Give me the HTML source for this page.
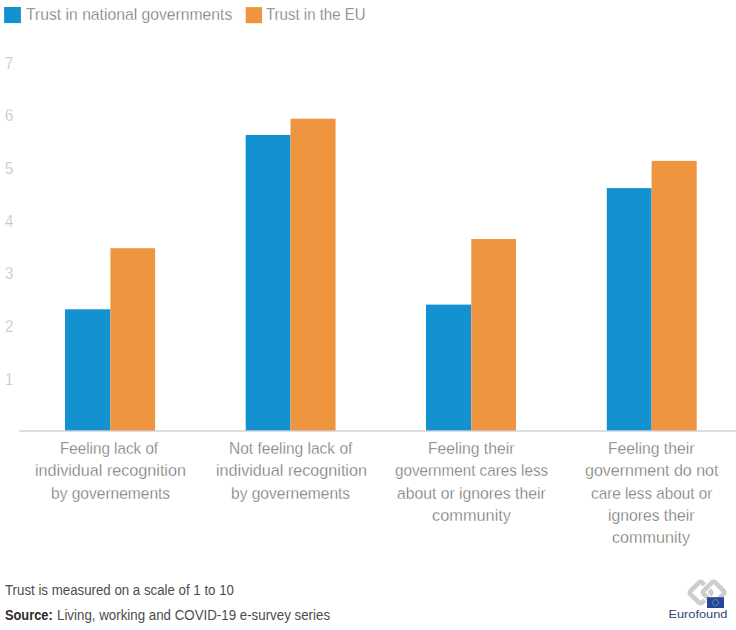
<!DOCTYPE html>
<html>
<head>
<meta charset="utf-8">
<style>
html,body{margin:0;padding:0;background:#fff;}
body{width:736px;height:630px;position:relative;overflow:hidden;font-family:"Liberation Sans",sans-serif;}
.sw{position:absolute;top:7px;width:17px;height:16px;}
.t{position:absolute;white-space:nowrap;transform-origin:0 50%;}
.leg{font-size:16.7px;line-height:20px;color:#646464;-webkit-text-stroke:0.4px #fff;}
.yl{font-size:16.5px;line-height:18px;color:#b4b4b4;left:4.6px;-webkit-text-stroke:0.4px #fff;}
.bar{position:absolute;}
.b{background:#1391d1;}
.o{background:#f0953f;}
.axis{position:absolute;left:19.5px;right:0;top:430.5px;height:1px;background:#bcbcbc;}
.cat{font-size:16.7px;line-height:20px;color:#646464;-webkit-text-stroke:0.4px #fff;}
.foot{font-size:14px;line-height:18px;color:#4c4c4c;left:5px;}
.foot b{color:#2b2b2b;}
</style>
</head>
<body>

<div class="t leg" id="leg1" style="left:26px;top:5.21px;transform:scaleX(0.9409)">Trust in national governments</div>
<div class="t leg" id="leg2" style="left:265.6px;top:5.21px;transform:scaleX(0.9002)">Trust in the EU</div>
<div class="t yl" style="top:53.78px;transform:scaleX(0.9)">7</div>
<div class="t yl" style="top:106.45px;transform:scaleX(0.9)">6</div>
<div class="t yl" style="top:159.12px;transform:scaleX(0.9)">5</div>
<div class="t yl" style="top:211.79px;transform:scaleX(0.9)">4</div>
<div class="t yl" style="top:264.46px;transform:scaleX(0.9)">3</div>
<div class="t yl" style="top:317.13px;transform:scaleX(0.9)">2</div>
<div class="t yl" style="top:369.80px;transform:scaleX(0.9)">1</div>
<svg style="position:absolute;left:0;top:0" width="736" height="440" viewBox="0 0 736 440">
<rect x="65.00" y="309.30" width="45.40" height="121.30" fill="#1391d1"/>
<rect x="110.40" y="248.20" width="44.70" height="182.40" fill="#f0953f"/>
<rect x="245.70" y="135.00" width="44.80" height="295.60" fill="#1391d1"/>
<rect x="290.50" y="118.70" width="45.10" height="311.90" fill="#f0953f"/>
<rect x="426.00" y="304.60" width="45.30" height="126.00" fill="#1391d1"/>
<rect x="471.30" y="239.00" width="44.70" height="191.60" fill="#f0953f"/>
<rect x="606.80" y="188.10" width="44.80" height="242.50" fill="#1391d1"/>
<rect x="651.60" y="160.90" width="45.10" height="269.70" fill="#f0953f"/>
<rect x="19.3" y="430.5" width="717" height="1" fill="#bdbdbd"/>
<rect x="4.1" y="7" width="16.8" height="16.1" fill="#1391d1"/>
<rect x="245.7" y="7.1" width="16.4" height="16.1" fill="#f0953f"/>
</svg>
<div class="t cat" id="cat0" style="left:60.45px;top:439.21px;transform:scaleX(0.9114)">Feeling lack of</div>
<div class="t cat" id="cat1" style="left:35.00px;top:461.46px;transform:scaleX(0.9685)">individual recognition</div>
<div class="t cat" id="cat2" style="left:50.75px;top:483.71px;transform:scaleX(0.9306)">by governements</div>
<div class="t cat" id="cat3" style="left:228.70px;top:439.21px;transform:scaleX(0.9300)">Not feeling lack of</div>
<div class="t cat" id="cat4" style="left:215.50px;top:461.46px;transform:scaleX(0.9685)">individual recognition</div>
<div class="t cat" id="cat5" style="left:231.25px;top:483.71px;transform:scaleX(0.9306)">by governements</div>
<div class="t cat" id="cat6" style="left:427.95px;top:439.21px;transform:scaleX(0.9410)">Feeling their</div>
<div class="t cat" id="cat7" style="left:394.50px;top:461.46px;transform:scaleX(0.9121)">government cares less</div>
<div class="t cat" id="cat8" style="left:396.75px;top:483.71px;transform:scaleX(0.9427)">about or ignores their</div>
<div class="t cat" id="cat9" style="left:431.75px;top:505.96px;transform:scaleX(0.9796)">community</div>
<div class="t cat" id="cat10" style="left:608.20px;top:439.21px;transform:scaleX(0.9410)">Feeling their</div>
<div class="t cat" id="cat11" style="left:585.25px;top:461.46px;transform:scaleX(0.9586)">government do not</div>
<div class="t cat" id="cat12" style="left:590.75px;top:483.71px;transform:scaleX(0.9150)">care less about or</div>
<div class="t cat" id="cat13" style="left:608.25px;top:505.96px;transform:scaleX(0.9411)">ignores their</div>
<div class="t cat" id="cat14" style="left:612.00px;top:528.21px;transform:scaleX(0.9672)">community</div>
<div class="t foot" id="foot1" style="top:581.45px;transform:scaleX(0.9480)">Trust is measured on a scale of 1 to 10</div>
<div class="t foot" id="foot2a" style="top:606.45px;transform:scaleX(0.9149)"><b>Source:</b></div>
<div class="t foot" id="foot2b" style="left:56.5px;top:606.45px;transform:scaleX(0.9510)">Living, working and COVID-19 e-survey series</div>
<svg style="position:absolute;left:660px;top:572px" width="76" height="58" viewBox="660 572 76 58">
<g fill="none" stroke="#cdcdcd" stroke-width="4.6" stroke-linejoin="round">
<rect x="-8.2" y="-8.2" width="16.4" height="16.4" rx="2.2" transform="translate(700.5 592.6) rotate(45)"/>
<rect x="-8.2" y="-8.2" width="16.4" height="16.4" rx="2.2" transform="translate(713.6 592.4) rotate(45)" stroke="#fff" stroke-width="7"/>
<rect x="-8.2" y="-8.2" width="16.4" height="16.4" rx="2.2" transform="translate(713.6 592.4) rotate(45)"/>
</g>
<rect x="707" y="597.2" width="17" height="10.8" fill="#24479b"/>
<circle cx="715.5" cy="602.6" r="3" fill="none" stroke="#b9bba0" stroke-width="0.9" stroke-dasharray="0.9 0.67"/>
<text x="668.4" y="617.7" font-family="Liberation Sans, sans-serif" font-size="11.8px" fill="#2a4a74" textLength="59" lengthAdjust="spacingAndGlyphs">Eurofound</text>
</svg>

</body>
</html>
